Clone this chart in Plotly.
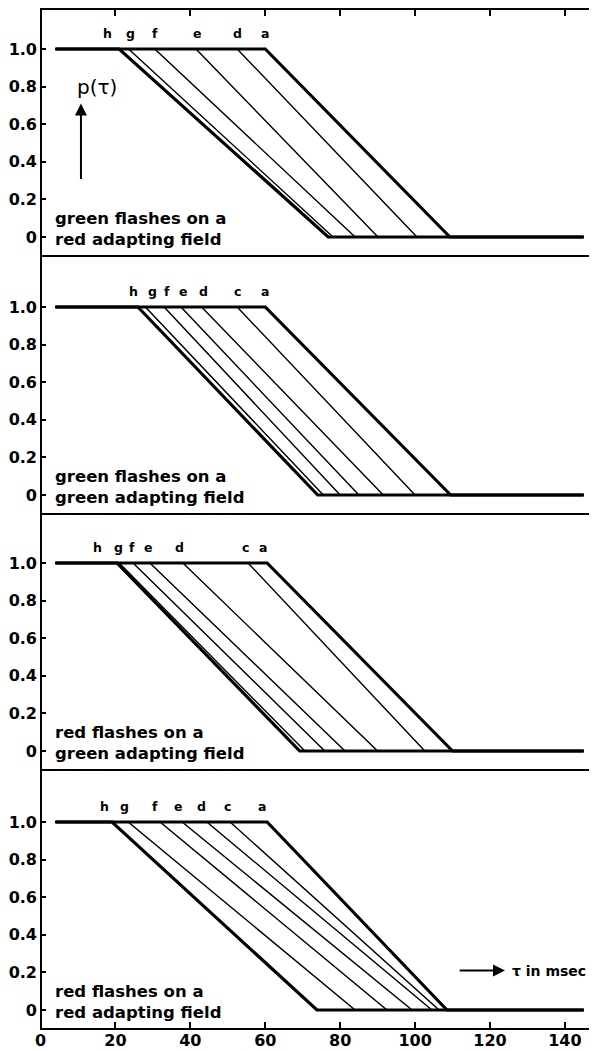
import plotly.graph_objects as go

# ---------------- data ----------------
x_left = 4.0      # start of the p=1 plateau (msec)
x_right = 145.0   # end of the p=0 plateau (msec)

p1_names = ['h', 'g', 'f', 'e', 'd', 'a']
p1_start = [21.0, 23.5, 30.5, 41.5, 52.5, 60.0]
p1_end = [76.8, 78.1, 84.0, 90.1, 100.5, 109.3]
p1_label_x = [18.0, 24.0, 30.5, 41.8, 52.5, 60.0]

p2_names = ['h', 'g', 'f', 'e', 'd', 'c', 'a']
p2_start = [26.0, 28.0, 33.0, 37.5, 43.0, 52.5, 60.0]
p2_end = [74.0, 75.5, 80.0, 85.0, 91.5, 100.0, 109.5]
p2_label_x = [24.7, 29.8, 33.8, 38.0, 43.4, 52.5, 60.0]

p3_names = ['h', 'g', 'f', 'e', 'd', 'c', 'a']
p3_start = [20.4, 21.0, 24.7, 29.2, 38.0, 55.4, 60.5]
p3_end = [69.2, 70.6, 75.9, 81.3, 90.0, 102.6, 110.0]
p3_label_x = [15.3, 20.7, 24.4, 28.7, 37.2, 54.6, 59.4]

p4_names = ['h', 'g', 'f', 'e', 'd', 'c', 'a']
p4_start = [19.1, 23.4, 31.9, 37.8, 44.4, 50.6, 60.5]
p4_end = [73.8, 84.0, 92.5, 99.2, 104.5, 106.4, 108.5]
p4_label_x = [17.2, 22.5, 30.5, 36.7, 43.1, 49.8, 59.1]

panel_text = [
    'green flashes on a<br>red adapting field',
    'green flashes on a<br>green adapting field',
    'red flashes on a<br>green adapting field',
    'red flashes on a<br>red adapting field',
]

y_ticks = [0, 0.2, 0.4, 0.6, 0.8, 1.0]
y_tick_text = ['0', '0.2', '0.4', '0.6', '0.8', '1.0']
x_ticks = [0, 20, 40, 60, 80, 100, 120, 140]

panels = [
    (p1_names, p1_start, p1_end, p1_label_x),
    (p2_names, p2_start, p2_end, p2_label_x),
    (p3_names, p3_start, p3_end, p3_label_x),
    (p4_names, p4_start, p4_end, p4_label_x),
]

# ---------------- layout geometry ----------------
# the page body has an 8px margin, so the figure is drawn 8px in from the
# window's top-left corner; geometry below is in window pixels
OFF = 8
WIN_W, WIN_H = 597, 1051
W, H = WIN_W - OFF, WIN_H - OFF
zero_px = [237, 495, 751, 1010]
unit_px = 188.0
bottom_px = [z + 17.5 for z in zero_px]
top_px = [10] + bottom_px[:-1]
x_px0, x_px_per = 40.5, 3.746
left_px = 40.0

FONT = 'DejaVu Sans'

fig = go.Figure()
layout = dict(
    width=W, height=H, margin=dict(l=0, r=0, t=0, b=0, autoexpand=False),
    paper_bgcolor='white', plot_bgcolor='white', showlegend=False,
)

x_domain = [(left_px - OFF) / W, 1.0]
x_range = [(left_px - x_px0) / x_px_per, (WIN_W - x_px0) / x_px_per]

annotations = []
for i, (names, st, en, lx) in enumerate(panels):
    k = i + 1
    xa = 'x' if k == 1 else f'x{k}'
    ya = 'y' if k == 1 else f'y{k}'
    n = len(names)
    for j in range(n):
        thick = (j == 0 or j == n - 1)
        fig.add_trace(go.Scatter(
            x=[x_left, st[j], en[j], x_right], y=[1, 1, 0, 0],
            mode='lines', xaxis=xa, yaxis=ya, cliponaxis=False,
            line=dict(color='black', width=3.2 if thick else 1.4),
            hoverinfo='skip'))
    # letter labels
    for j in range(n):
        annotations.append(dict(
            x=lx[j], y=1.085, xref=xa, yref=ya, text=names[j], showarrow=False,
            font=dict(family=FONT, size=12.5, color='black', weight='bold'),
            xanchor='center', yanchor='middle'))
    # panel text
    annotations.append(dict(
        x=3.4, y=0.045, xref=xa, yref=ya, text=panel_text[i], showarrow=False,
        align='left', xanchor='left', yanchor='middle',
        font=dict(family=FONT, size=16.5, color='black', weight='bold')))

    ydom = [1 - (bottom_px[i] - OFF) / H, 1 - (top_px[i] - OFF) / H]
    yr = [-(bottom_px[i] - zero_px[i]) / unit_px, (zero_px[i] - top_px[i]) / unit_px]
    layout[f'yaxis{"" if k == 1 else k}'] = dict(
        domain=ydom, range=yr, anchor=xa, tickvals=y_ticks, ticktext=y_tick_text,
        ticks='inside', ticklen=6, tickwidth=2, tickcolor='black',
        showline=False, showgrid=False, zeroline=False, automargin=False,
        ticklabelstandoff=2,
        tickfont=dict(family=FONT, size=16, color='black', weight='bold'))
    # right-hand tick marks (the right frame itself lies outside the picture)
    layout[f'yaxis{k + 4}'] = dict(
        overlaying=ya, side='right', anchor=xa, range=yr, tickvals=y_ticks,
        ticks='inside', ticklen=6, tickwidth=2, tickcolor='black',
        showticklabels=False, showline=False, showgrid=False, zeroline=False,
        automargin=False)
    xa_cfg = dict(
        domain=x_domain, range=x_range, anchor=ya, showgrid=False, automargin=False,
        zeroline=True, zerolinecolor='black', zerolinewidth=2,
        showline=True, linecolor='black', linewidth=2,
        tickvals=x_ticks, ticklen=6, tickwidth=2, tickcolor='black',
        ticklabelstandoff=-3,
        tickfont=dict(family=FONT, size=16, color='black', weight='bold'))
    if k == 1:
        xa_cfg.update(side='top', ticks='inside', showticklabels=False, mirror=True)
    elif k == 4:
        xa_cfg.update(side='bottom', ticks='inside', showticklabels=True, mirror=False)
    else:
        xa_cfg.update(side='bottom', ticks='', showticklabels=False, mirror=False)
    layout[f'xaxis{"" if k == 1 else k}'] = xa_cfg

# p(tau) arrow and label (panel 1)
annotations.append(dict(
    x=10.8, y=0.71, ax=10.8, ay=0.30, xref='x', yref='y', axref='x', ayref='y',
    text='', showarrow=True, arrowhead=2, arrowsize=1.2, arrowwidth=2, arrowcolor='black'))
annotations.append(dict(
    x=9.2, y=0.80, xref='x', yref='y', text='p(τ)', showarrow=False,
    xanchor='left', yanchor='middle',
    font=dict(family=FONT, size=20, color='black')))

# tau arrow (panel 4)
annotations.append(dict(
    x=124.0, y=0.21, ax=111.5, ay=0.21, xref='x4', yref='y4', axref='x4', ayref='y4',
    text='', showarrow=True, arrowhead=2, arrowsize=1.2, arrowwidth=2, arrowcolor='black'))
annotations.append(dict(
    x=125.3, y=0.21, xref='x4', yref='y4', text='τ in msec', showarrow=False,
    xanchor='left', yanchor='middle',
    font=dict(family=FONT, size=14, color='black', weight='bold')))

layout['annotations'] = annotations
fig.update_layout(**layout)
fig.write_html('out.html')
